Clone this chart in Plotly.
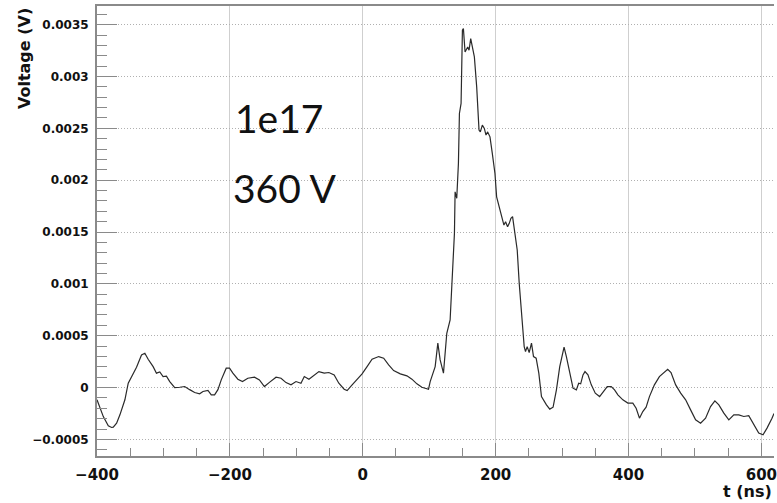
import plotly.graph_objects as go

# waveform samples
t_ns = [-400, -395.5, -390.5, -383, -378, -375.5, -370.5, -365.5, -358, -353, -348, -340.5, -333, -328, -323,
        -315.5, -310.5, -305.5, -300.5, -295.5, -290.5, -283, -275.5, -268, -260.5, -253, -245.5, -240.5, -233,
        -228, -223, -218, -213, -205.5, -200.5, -195.5, -188, -181, -173, -163, -155.5, -148, -140.5, -130.5,
        -123, -115.5, -108, -100.5, -93, -88, -81, -73, -66, -58, -51, -43, -36, -28, -23.5, -16, -8.5, -1,
        6.5, 14, 24, 31.5, 39, 46.5, 56.5, 66.5, 74, 81.5, 89, 96.5, 99, 101.5, 104, 109, 113, 116.5, 121.5,
        126.5, 131.5, 134, 138, 139, 141.5, 144, 145.5, 148, 150, 151.5, 154, 158, 160, 162.5, 165, 168, 171.5,
        175, 177, 180, 183, 185.5, 188, 191.5, 195, 199, 201.5, 205, 209, 212.5, 215, 218, 220.5, 223, 225.5,
        229, 232.5, 235.5, 239, 243, 245, 247.5, 250.5, 254, 257, 261, 265, 269, 276.5, 281.5, 286.5, 291.5,
        296.5, 300, 303, 306.5, 311.5, 316.5, 321.5, 325, 328, 331.5, 334.5, 339, 344, 350, 356.5, 363, 368,
        374, 379, 384, 391.5, 399, 406.5, 411.5, 416.5, 421.5, 426.5, 431.5, 439, 446.5, 454, 459, 464, 471,
        478.5, 486, 493.5, 501, 508.5, 516, 523.5, 530, 536, 543.5, 551, 558.5, 566, 573.5, 581, 588.5, 596,
        602.5, 608.5, 616, 619]
voltage = [-0.000118, -0.000189, -0.00028, -0.000369, -0.000385, -0.000382, -0.000343, -0.000263, -0.000118,
           0.000042, 0.000106, 0.000196, 0.000315, 0.000331, 0.000273, 0.000202, 0.000139, 0.00015, 0.000106,
           0.00011, 0.000058, 0.0, 0.000003, 0.00001, -0.00002, -0.000048, -0.00006, -0.000038, -0.000027,
           -0.00007, -0.00007, -0.00002, 0.000074, 0.000187, 0.000187, 0.000139, 0.000081, 0.000058, 0.00009,
           0.0001, 0.000074, 0.00001, 0.00005, 0.0001, 0.00009, 0.000048, 0.000026, 0.000058, 0.000042,
           0.000106, 0.000081, 0.000122, 0.000154, 0.000139, 0.000145, 0.000122, 0.000042, -0.000016,
           -0.000029, 0.000026, 0.000081, 0.000132, 0.000202, 0.000273, 0.000299, 0.000283, 0.000219,
           0.000164, 0.000132, 0.000113, 0.000081, 0.000036, 0.000003, -0.000016, -0.000016, 0.000058,
           0.000106, 0.000202, 0.000428, 0.000267, 0.000139, 0.000524, 0.000652, 0.001006, 0.001487, 0.001888,
           0.001825, 0.002162, 0.002643, 0.00274, 0.003446, 0.003462, 0.003237, 0.003285, 0.003253, 0.003366,
           0.003285, 0.003189, 0.0029, 0.002483, 0.002466, 0.002531, 0.002499, 0.002435, 0.002466, 0.002418,
           0.002258, 0.002065, 0.00184, 0.001744, 0.001632, 0.001567, 0.001599, 0.001551, 0.001584, 0.001632,
           0.001648, 0.001487, 0.001327, 0.001006, 0.000717, 0.000395, 0.000347, 0.000395, 0.000337, 0.000428,
           0.000299, 0.000283, 0.000139, -0.000087, -0.000167, -0.000208, -0.000189, -0.000022, 0.000202,
           0.000299, 0.000389, 0.000299, 0.000139, -0.000006, -0.000022, 0.000042, 0.000036, 0.000122,
           0.000154, 0.000122, 0.000026, -0.000054, -0.000087, -0.000038, 0.00001, 0.00001, -0.000022,
           -0.00007, -0.000118, -0.00015, -0.00015, -0.000199, -0.000295, -0.000231, -0.000189, -0.000087,
           0.000026, 0.000106, 0.000154, 0.000177, 0.000145, 0.000026, -0.000054, -0.000118, -0.000215,
           -0.000311, -0.000343, -0.000295, -0.000183, -0.000128, -0.000167, -0.000247, -0.000311, -0.000263,
           -0.000263, -0.000279, -0.000272, -0.000359, -0.000439, -0.000456, -0.000391, -0.000295, -0.00025]

x_tick_vals = [-400, -200, 0, 200, 400, 600]
x_tick_text = ["\u2212400", "\u2212200", "0", "200", "400", "600"]
y_tick_vals = [-0.0005, 0, 0.0005, 0.001, 0.0015, 0.002, 0.0025, 0.003, 0.0035]
y_tick_text = ["\u22120.0005", "0", "0.0005", "0.001", "0.0015", "0.002", "0.0025", "0.003", "0.0035"]

label_1 = "1e17"
label_2 = "360 V"
x_title = "t (ns)"
y_title = "Voltage (V)"

axis_gray = "#8a8a8a"
tick_font = dict(family="DejaVu Sans", weight="bold", color="#111")

fig = go.Figure()
fig.add_trace(go.Scatter(x=t_ns, y=voltage, mode="lines",
                         line=dict(color="#2a2a2a", width=1.2), showlegend=False, hoverinfo="skip"))

fig.update_layout(
    width=777, height=503,
    margin=dict(l=97, r=0, t=6, b=47),
    paper_bgcolor="white", plot_bgcolor="white",
    xaxis=dict(range=[-400, 619], tickmode="array", tickvals=x_tick_vals, ticktext=x_tick_text,
               ticks="inside", ticklen=13, tickwidth=1, tickcolor=axis_gray,
               showline=True, linecolor=axis_gray, linewidth=2, mirror=True,
               showgrid=True, gridcolor="#cfcfcf", gridwidth=1, zeroline=False,
               tickfont=dict(size=15, **tick_font), ticklabelstandoff=4, ticklabeloverflow="allow",
               minor=dict(dtick=50, tick0=-400, ticks="inside", ticklen=8, tickcolor=axis_gray,
                          showgrid=False)),
    yaxis=dict(range=[-0.00066, 0.00368], tickmode="array", tickvals=y_tick_vals, ticktext=y_tick_text,
               ticks="inside", ticklen=20, tickwidth=1, tickcolor=axis_gray,
               showline=True, linecolor=axis_gray, linewidth=2, mirror=False,
               showgrid=True, gridcolor="#b0b0b0", gridwidth=1, griddash="1px,2px", zeroline=False,
               tickfont=dict(size=12, **tick_font), ticklabelstandoff=4,
               minor=dict(dtick=0.0001, tick0=0, ticks="inside", ticklen=10, tickcolor=axis_gray,
                          showgrid=False)),
    annotations=[
        dict(text=label_1, xref="paper", yref="paper", x=0.201, y=0.752, xanchor="left", yanchor="middle",
             showarrow=False, font=dict(family="Lato", size=39, color="#111")),
        dict(text=label_2, xref="paper", yref="paper", x=0.198, y=0.595, xanchor="left", yanchor="middle",
             showarrow=False, font=dict(family="Lato", size=39, color="#111")),
        dict(text=x_title, xref="paper", yref="paper", x=1.0, y=-0.053, xanchor="right", yanchor="top",
             showarrow=False, font=dict(family="DejaVu Sans", weight="bold", size=16, color="#111")),
        dict(text=y_title, xref="paper", yref="paper", x=-0.107, y=1.0, xanchor="center", yanchor="top",
             textangle=-90, showarrow=False,
             font=dict(family="DejaVu Sans", weight="bold", size=16, color="#111")),
    ],
)

fig.write_html("out.html")
